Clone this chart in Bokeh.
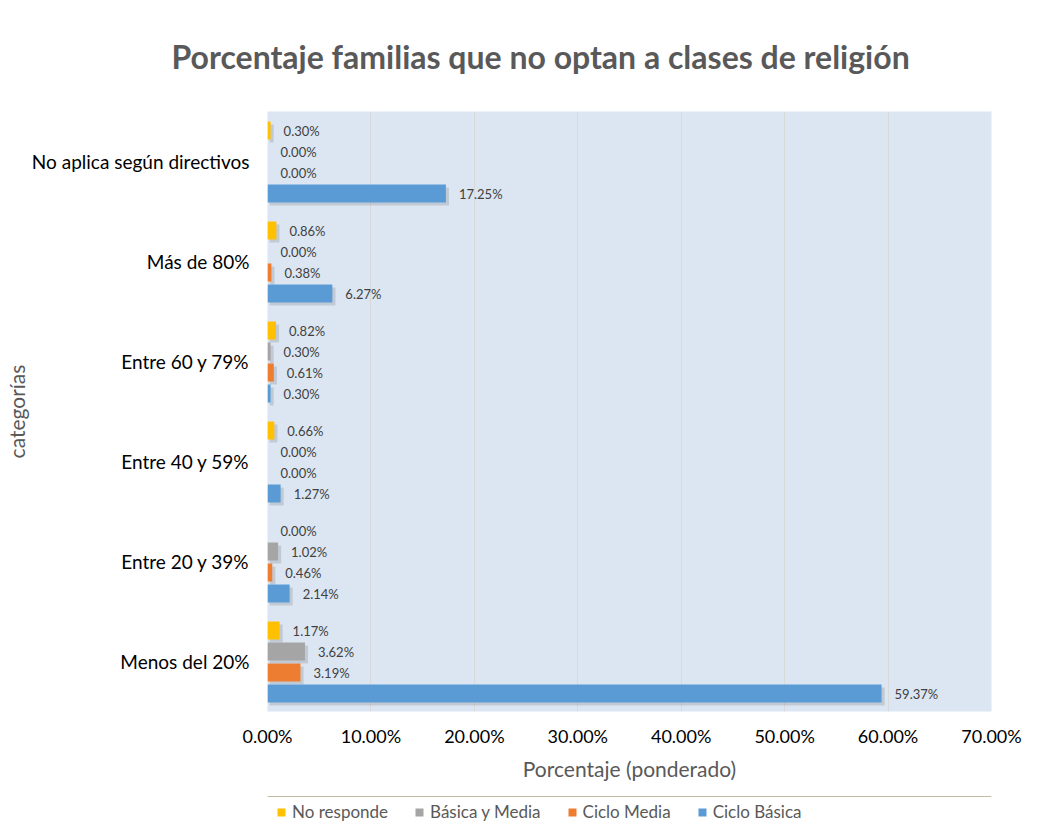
from bokeh.plotting import figure
from bokeh.layouts import column
from bokeh.models import FactorRange, Range1d, FixedTicker, Legend, LegendItem, ColumnDataSource
from bokeh.transform import dodge
from bokeh.embed import file_html
from bokeh.resources import INLINE
from bokeh.core.properties import value

categories = ["Menos del 20%", "Entre 20 y 39%", "Entre 40 y 59%",
              "Entre 60 y 79%", "Más de 80%", "No aplica según directivos"]
ciclo_basica = [59.37, 2.14, 1.27, 0.30, 6.27, 17.25]
ciclo_media = [3.19, 0.46, 0.00, 0.61, 0.38, 0.00]
basica_media = [3.62, 1.02, 0.00, 0.30, 0.00, 0.00]
no_responde = [1.17, 0.00, 0.66, 0.82, 0.86, 0.30]
x_ticks = [0, 10, 20, 30, 40, 50, 60, 70]

series = [
    ("No responde", no_responde, "#ffc000", 0.31),
    ("Básica y Media", basica_media, "#a5a5a5", 0.10),
    ("Ciclo Media", ciclo_media, "#ed7d31", -0.11),
    ("Ciclo Básica", ciclo_basica, "#5b9bd5", -0.32),
]

FONT = "Lato"
TOTAL_W = 1041

p = figure(frame_width=724, frame_height=600, output_backend="svg", toolbar_location=None,
           y_range=FactorRange(*categories), x_range=Range1d(0, 70),
           min_border_left=267, min_border_right=50, min_border_top=111, min_border_bottom=85)

p.title.text = "Porcentaje familias que no optan a clases de religión"
p.title.align = "left"
p.title.vertical_align = "top"
p.title.offset = -96
p.title.text_font = FONT
p.title.text_font_size = "32px"
p.title.text_font_style = "bold"
p.title.text_color = "#595959"
p.title.standoff = 68

p.background_fill_color = "#dce6f2"
p.border_fill_color = "white"
p.outline_line_color = None

for name, vals, color, off in series:
    sh = ColumnDataSource(dict(cat=[c for c, v in zip(categories, vals) if v > 0],
                               val=[v + 0.3 for v in vals if v > 0]))
    p.hbar(y=dodge("cat", off - 0.03, range=p.y_range), right="val", left=0.2, height=0.18,
           source=sh, fill_color="#000000", fill_alpha=0.12, line_color=None)
    src = ColumnDataSource(dict(cat=categories, val=vals, lbl=[f"{v:.2f}%" for v in vals]))
    p.hbar(y=dodge("cat", off, range=p.y_range), right="val", left=0, height=0.18,
           source=src, fill_color=color, line_color=None)
    p.text(x="val", y=dodge("cat", off, range=p.y_range), text="lbl", source=src,
           x_offset=13, text_baseline="middle", text_align="left",
           text_font=value(FONT), text_font_size="13px", text_color="#404040")

p.xaxis.ticker = FixedTicker(ticks=x_ticks)
p.xaxis.major_label_overrides = {t: f"{t:.2f}%" for t in x_ticks}
p.xaxis.axis_label = "Porcentaje (ponderado)"
p.yaxis.axis_label = "categorías"
for ax in (p.xaxis[0], p.yaxis[0]):
    ax.axis_line_color = None
    ax.major_tick_line_color = None
    ax.minor_tick_line_color = None
    ax.major_tick_out = 0
    ax.major_tick_in = 0
    ax.minor_tick_out = 0
    ax.major_label_text_font = FONT
    ax.major_label_text_color = "#000000"
    ax.axis_label_text_font = FONT
    ax.axis_label_text_font_size = "21px"
    ax.axis_label_text_font_style = "normal"
    ax.axis_label_text_color = "#595959"
p.xaxis.major_label_text_font_size = "18px"
p.yaxis.major_label_text_font_size = "19px"
p.xaxis.major_label_standoff = 13
p.xaxis.axis_label_standoff = 6
p.yaxis.major_label_standoff = 18
p.yaxis.axis_label_standoff = 0

p.xgrid.ticker = FixedTicker(ticks=x_ticks)
p.xgrid.grid_line_color = "#d9d9d9"
p.ygrid.grid_line_color = None

# legend strip below the chart (its frame is aligned with the main frame)
lg = figure(width=TOTAL_W, height=30, output_backend="svg", toolbar_location=None,
            x_range=Range1d(0, 1), y_range=Range1d(0, 1),
            x_axis_location=None, y_axis_location=None,
            min_border_left=0, min_border_right=0, min_border_top=0, min_border_bottom=0)
lg.grid.visible = False
lg.outline_line_color = None
lg.background_fill_color = "white"
lg.border_fill_color = "white"
items = []
for name, vals, color, off in series:
    # legend proxy drawn outside the visible range of the strip
    r = lg.hbar(y=[5], left=[0], right=[1], height=0.5, fill_color=color, line_color=None)
    items.append(LegendItem(label=name, renderers=[r]))
legend = Legend(items=items, orientation="horizontal", location=(9, 4),
                label_text_font=FONT, label_text_font_size="17px", label_text_color="#595959",
                glyph_width=10, glyph_height=10, label_standoff=6, spacing=26,
                border_line_color=None, background_fill_alpha=0, padding=0, margin=0)
lg.add_layout(legend)

layout = column(p, lg, spacing=0)

open("out.html", "w").write(file_html(layout, INLINE))
